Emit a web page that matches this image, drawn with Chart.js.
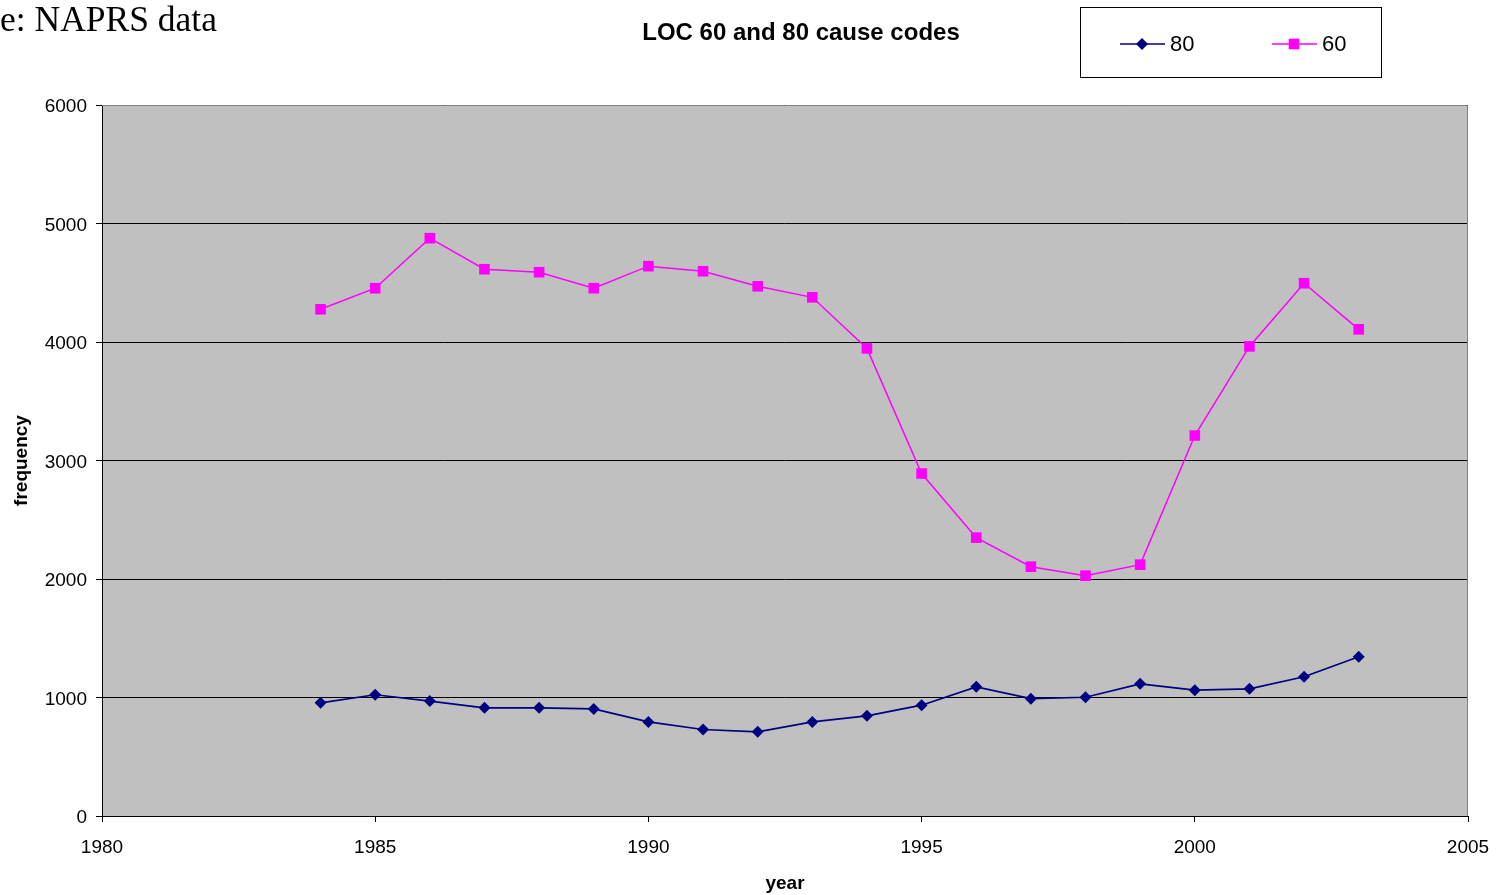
<!DOCTYPE html>
<html>
<head>
<meta charset="utf-8">
<script src="https://cdn.jsdelivr.net/npm/chart.js@4/dist/chart.umd.min.js"></script>
<style>
  html, body { margin: 0; padding: 0; background: #fff; overflow: hidden; }
  #wrap { position: relative; width: 1497px; height: 895px; }
  #source {
    position: absolute; left: 0; top: 1px;
    font-family: "Liberation Serif", "Times New Roman", serif;
    font-size: 35.5px; color: #000; line-height: 36px;
  }
</style>
</head>
<body>
<div id="wrap">
  <canvas id="chart" width="1497" height="895"></canvas>
  <div id="source">e: NAPRS data</div>
</div>
<script>
const years = [1984, 1985, 1986, 1987, 1988, 1989, 1990, 1991, 1992, 1993,
               1994, 1995, 1996, 1997, 1998, 1999, 2000, 2001, 2002, 2003];
const loc80 = [955, 1023, 970, 913, 913, 904, 794, 730, 710, 794,
               845, 935, 1090, 990, 1002, 1115, 1062, 1073, 1175, 1344];
const loc60 = [4276, 4454, 4876, 4614, 4589, 4454, 4640, 4597, 4470, 4377,
               3946, 2890, 2349, 2104, 2028, 2121, 3211, 3963, 4496, 4107];
const xTicks = [1980, 1985, 1990, 1995, 2000, 2005];
const yTicks = [0, 1000, 2000, 3000, 4000, 5000, 6000];

const FONT = '"Liberation Sans", Arial, sans-serif';

const pairs = vals => vals.map((v, i) => ({ x: years[i], y: v }));

// grey plot background and frame
const plotBg = {
  id: 'plotBg',
  beforeDraw(chart) {
    const { ctx, chartArea: a } = chart;
    ctx.save();
    ctx.fillStyle = '#c0c0c0';
    ctx.fillRect(a.left, a.top, a.right - a.left, a.bottom - a.top);
    ctx.restore();
  },
  afterDatasetsDraw(chart) {
    const { ctx, chartArea: a } = chart;
    ctx.save();
    ctx.strokeStyle = '#808080';
    ctx.lineWidth = 1;
    ctx.beginPath();
    ctx.moveTo(a.left, a.top + 0.5);
    ctx.lineTo(a.right - 0.5, a.top + 0.5);
    ctx.lineTo(a.right - 0.5, a.bottom);
    ctx.stroke();
    ctx.restore();
  }
};

// title and boxed legend at the top
const header = {
  id: 'header',
  afterDraw(chart) {
    const { ctx } = chart;
    ctx.save();
    ctx.fillStyle = '#000';
    ctx.font = 'bold 24px ' + FONT;
    ctx.textAlign = 'center';
    ctx.textBaseline = 'middle';
    ctx.fillText('LOC 60 and 80 cause codes', 801, 33);

    ctx.strokeStyle = '#000';
    ctx.lineWidth = 1;
    ctx.strokeRect(1080.5, 7.5, 301, 70);

    const items = [{ ds: chart.data.datasets[0], x: 1120 }, { ds: chart.data.datasets[1], x: 1272 }];
    items.forEach(({ ds, x }) => {
      const y = 44;
      ctx.strokeStyle = ds.borderColor;
      ctx.lineWidth = ds.borderWidth;
      ctx.beginPath();
      ctx.moveTo(x, y);
      ctx.lineTo(x + 45, y);
      ctx.stroke();
      ctx.fillStyle = ds.pointBackgroundColor;
      Chart.helpers.drawPoint(ctx, { pointStyle: ds.pointStyle, radius: ds.pointRadius, borderWidth: 0 }, x + 22, y);
      ctx.fillStyle = '#000';
      ctx.font = '22px ' + FONT;
      ctx.textAlign = 'left';
      ctx.fillText(ds.label, x + 50, y + 1);
    });
    ctx.restore();
  }
};

new Chart(document.getElementById('chart'), {
  type: 'line',
  data: {
    datasets: [
      {
        label: '80',
        data: pairs(loc80),
        borderColor: '#000080',
        backgroundColor: '#000080',
        pointBackgroundColor: '#000080',
        pointBorderColor: '#000080',
        borderWidth: 1.7,
        pointStyle: 'rectRot',
        pointRadius: 6,
        pointBorderWidth: 0,
        tension: 0
      },
      {
        label: '60',
        data: pairs(loc60),
        borderColor: '#ff00ff',
        backgroundColor: '#ff00ff',
        pointBackgroundColor: '#ff00ff',
        pointBorderColor: '#ff00ff',
        borderWidth: 1.5,
        pointStyle: 'rect',
        pointRadius: 7.5,
        pointBorderWidth: 0,
        tension: 0
      }
    ]
  },
  options: {
    responsive: false,
    animation: false,
    layout: { padding: { top: 105, right: 29, left: 0, bottom: 0 } },
    plugins: {
      legend: { display: false },
      title: { display: false },
      tooltip: { enabled: false }
    },
    scales: {
      x: {
        type: 'linear',
        min: 1980,
        max: 2005,
        afterFit(scale) {
          scale.height = 79;
          scale.paddingLeft = 0;
          scale.paddingRight = 0;
        },
        afterBuildTicks(scale) { scale.ticks = xTicks.map(v => ({ value: v })); },
        border: { color: '#000', width: 1 },
        grid: { drawOnChartArea: false, color: '#000', tickLength: 6 },
        ticks: {
          color: '#000',
          font: { family: FONT, size: 19 },
          padding: 14,
          maxRotation: 0,
          callback: v => String(v)
        },
        title: {
          display: true,
          text: 'year',
          color: '#000',
          font: { family: FONT, size: 19, weight: 'bold' },
          padding: { top: 0, bottom: 0 }
        }
      },
      y: {
        min: 0,
        max: 6000,
        afterFit(scale) {
          scale.width = 102;
          scale.paddingTop = 0;
          scale.paddingBottom = 0;
        },
        afterBuildTicks(scale) { scale.ticks = yTicks.map(v => ({ value: v })); },
        border: { color: '#000', width: 1 },
        grid: { color: '#000', lineWidth: 1, tickLength: 6 },
        ticks: {
          color: '#000',
          font: { family: FONT, size: 19 },
          padding: 9,
          labelOffset: 2,
          callback: v => String(v)
        },
        title: {
          display: true,
          text: 'frequency',
          color: '#000',
          font: { family: FONT, size: 19, weight: 'bold' },
          padding: { top: 10, bottom: 0 }
        }
      }
    }
  },
  plugins: [plotBg, header]
});
</script>
</body>
</html>
